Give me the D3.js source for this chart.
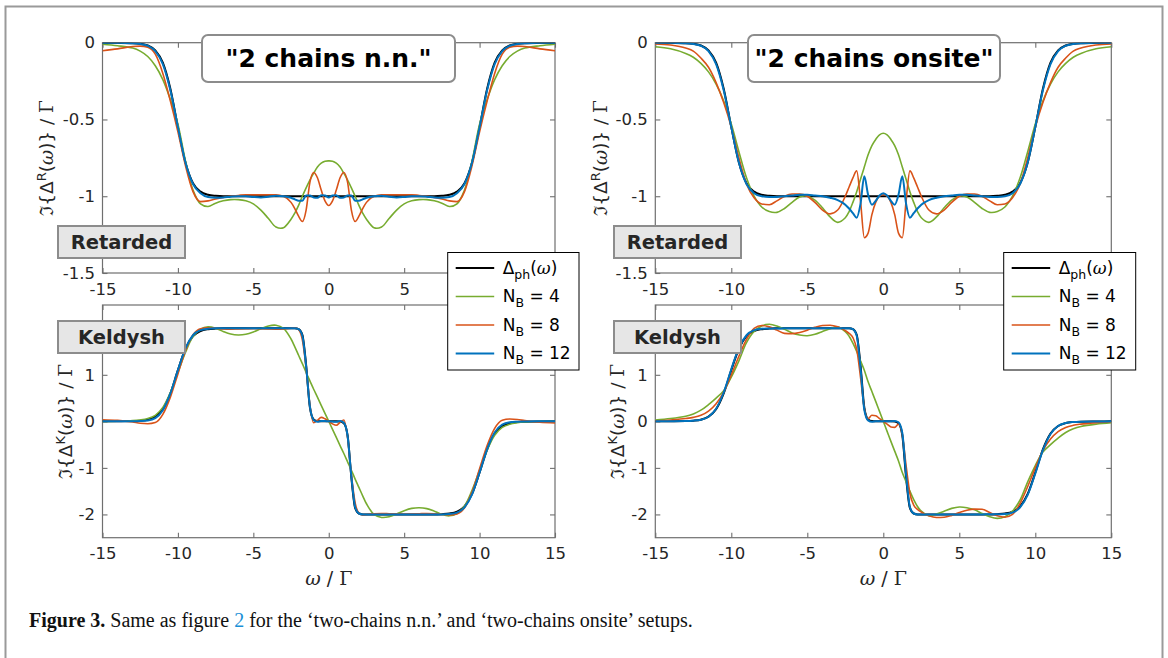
<!DOCTYPE html>
<html>
<head>
<meta charset="utf-8">
<script src="https://cdn.jsdelivr.net/npm/d3@7"></script>
<style>
  body { margin: 0; background: #fff; }
  svg { display: block; }
</style>
</head>
<body>
<svg id="fig" width="1168" height="658"></svg>
<script>
// ---- frequency grid (omega / Gamma), finer near the Fermi edges ----
const omega = [-15, -14, -13, -12.5, -12, -11.5, -11, -10.5, -10, -9.5, -9, -8.5, -8, -7.5, -7, -6.5, -6, -5.5, -5, -4.5, -4, -3.5, -3, -2.5, -2.25, -2, -1.75, -1.5, -1.25, -1, -0.75, -0.5, -0.25, 0,
  0.25, 0.5, 0.75, 1, 1.25, 1.5, 1.75, 2, 2.25, 2.5, 3, 3.5, 4, 4.5, 5, 5.5, 6, 6.5, 7, 7.5, 8, 8.5, 9, 9.5, 10, 10.5, 11, 11.5, 12, 12.5, 13, 14, 15];

// ---- physical hybridization (same target in both setups) ----
const deltaPhRet = [0, -0.001, -0.003, -0.007, -0.018, -0.05, -0.13, -0.3, -0.55, -0.78, -0.915, -0.97, -0.99, -0.997, -1, -1, -1, -1, -1, -1, -1, -1, -1, -1, -1, -1, -1, -1, -1, -1, -1, -1, -1, -1,
  -1, -1, -1, -1, -1, -1, -1, -1, -1, -1, -1, -1, -1, -1, -1, -1, -1, -1, -1, -0.997, -0.99, -0.97, -0.915, -0.78, -0.55, -0.3, -0.13, -0.05, -0.018, -0.007, -0.003, -0.001, 0];
const deltaPhKel = [0, 0.002, 0.006, 0.014, 0.036, 0.1, 0.26, 0.6, 1.1, 1.56, 1.83, 1.94, 1.98, 1.994, 2, 2, 2, 2, 2, 2, 2, 2, 2, 2, 2, 1.98, 1.86, 1.21, 0.3, 0.04, 0.005, 0, 0, 0,
  0, 0, -0.005, -0.04, -0.3, -1.21, -1.86, -1.98, -2, -2, -2, -2, -2, -2, -2, -2, -2, -2, -2, -1.994, -1.98, -1.94, -1.83, -1.56, -1.1, -0.6, -0.26, -0.1, -0.036, -0.014, -0.006, -0.002, 0];

// ---- "2 chains n.n." retarded ----
const nnRetNB4 = [-0.01, -0.02, -0.035, -0.055, -0.09, -0.15, -0.24, -0.37, -0.53, -0.77, -0.96, -1.05, -1.067, -1.045, -1.03, -1.022, -1.022, -1.03, -1.05, -1.09, -1.145, -1.2, -1.205, -1.15, -1.11, -1.06, -1.0, -0.945, -0.895, -0.85, -0.81, -0.785, -0.772, -0.77,
  -0.772, -0.785, -0.81, -0.85, -0.895, -0.945, -1.0, -1.06, -1.11, -1.15, -1.205, -1.2, -1.145, -1.09, -1.05, -1.03, -1.022, -1.022, -1.03, -1.045, -1.067, -1.05, -0.96, -0.77, -0.53, -0.37, -0.24, -0.15, -0.09, -0.055, -0.035, -0.02, -0.01];
const nnRetNB8 = [-0.052, -0.04, -0.025, -0.022, -0.03, -0.075, -0.2, -0.38, -0.58, -0.8, -0.97, -1.035, -1.03, -1.018, -1.008, -1.0, -0.995, -0.99, -0.99, -0.99, -0.99, -0.99, -1.0, -1.04, -1.08, -1.13, -1.165, -1.09, -0.91, -0.845, -0.88, -0.96, -1.03, -1.06,
  -1.03, -0.96, -0.88, -0.845, -0.91, -1.09, -1.165, -1.13, -1.08, -1.04, -1.0, -0.99, -0.99, -0.99, -0.99, -0.99, -0.995, -1.0, -1.008, -1.018, -1.03, -1.035, -0.97, -0.8, -0.58, -0.38, -0.2, -0.075, -0.03, -0.022, -0.025, -0.04, -0.052];
const nnRetNB12 = [0, 0, -0.003, -0.008, -0.02, -0.055, -0.14, -0.31, -0.55, -0.78, -0.92, -0.98, -1.005, -1.01, -1.008, -1.003, -1.0, -1.0, -1.005, -1.008, -1.003, -0.997, -1.0, -1.01, -1.02, -1.03, -1.03, -0.995, -0.995, -1.008, -1.01, -0.993, -0.995, -1.008,
  -0.995, -0.993, -1.01, -1.008, -0.995, -0.995, -1.03, -1.03, -1.02, -1.01, -1.0, -0.997, -1.003, -1.008, -1.005, -1.0, -1.0, -1.003, -1.008, -1.01, -1.005, -0.98, -0.92, -0.78, -0.55, -0.31, -0.14, -0.055, -0.02, -0.008, -0.003, 0, 0];

// ---- "2 chains onsite" retarded ----
const osRetNB4 = [-0.026, -0.04, -0.07, -0.095, -0.135, -0.19, -0.27, -0.38, -0.53, -0.71, -0.88, -1.0, -1.07, -1.1, -1.105, -1.08, -1.04, -1.005, -1.0, -1.025, -1.075, -1.135, -1.17, -1.14, -1.1, -1.04, -0.97, -0.89, -0.81, -0.73, -0.67, -0.63, -0.6, -0.59,
  -0.6, -0.63, -0.67, -0.73, -0.81, -0.89, -0.97, -1.04, -1.1, -1.14, -1.17, -1.135, -1.075, -1.025, -1.0, -1.005, -1.04, -1.08, -1.105, -1.1, -1.07, -1.0, -0.88, -0.71, -0.53, -0.38, -0.27, -0.19, -0.135, -0.095, -0.07, -0.04, -0.026];
const osRetNB8 = [-0.008, -0.015, -0.035, -0.055, -0.1, -0.16, -0.26, -0.39, -0.55, -0.75, -0.92, -1.01, -1.05, -1.055, -1.03, -1.0, -0.985, -0.985, -1.0, -1.04, -1.09, -1.115, -1.09, -1.0, -0.94, -0.88, -0.835, -1.03, -1.27, -1.24, -1.12, -1.04, -1.0, -0.99,
  -1.0, -1.04, -1.12, -1.24, -1.27, -1.03, -0.835, -0.88, -0.94, -1.0, -1.09, -1.115, -1.09, -1.04, -1.0, -0.985, -0.985, -1.0, -1.03, -1.055, -1.05, -1.01, -0.92, -0.75, -0.55, -0.39, -0.26, -0.16, -0.1, -0.055, -0.035, -0.015, -0.008];
const osRetNB12 = [0, 0, -0.003, -0.008, -0.02, -0.055, -0.14, -0.31, -0.55, -0.78, -0.92, -0.98, -1.0, -1.005, -1.005, -1.0, -0.995, -0.99, -0.99, -0.995, -1.0, -1.01, -1.025, -1.055, -1.08, -1.11, -1.14, -1.05, -0.87, -0.99, -1.055, -1.03, -0.995, -0.98,
  -0.995, -1.03, -1.055, -0.99, -0.87, -1.05, -1.14, -1.11, -1.08, -1.055, -1.025, -1.01, -1.0, -0.995, -0.99, -0.99, -0.995, -1.0, -1.005, -1.005, -1.0, -0.98, -0.92, -0.78, -0.55, -0.31, -0.14, -0.055, -0.02, -0.008, -0.003, 0, 0];

// ---- "2 chains n.n." Keldysh ----
const nnKelNB4 = [0, 0.004, 0.015, 0.03, 0.06, 0.13, 0.3, 0.62, 1.05, 1.48, 1.82, 1.98, 2.03, 2.0, 1.93, 1.875, 1.855, 1.87, 1.92, 1.99, 2.05, 2.065, 2.0, 1.77, 1.6, 1.42, 1.24, 1.05, 0.87, 0.69, 0.52, 0.345, 0.172, 0,
  -0.172, -0.345, -0.52, -0.69, -0.87, -1.05, -1.24, -1.42, -1.6, -1.77, -2.0, -2.065, -2.05, -1.99, -1.92, -1.87, -1.855, -1.875, -1.93, -2.0, -2.03, -1.98, -1.82, -1.48, -1.05, -0.62, -0.3, -0.13, -0.06, -0.03, -0.015, -0.004, 0];
const nnKelNB8 = [0.035, 0.02, -0.015, -0.04, -0.05, -0.025, 0.15, 0.52, 1.02, 1.52, 1.86, 1.99, 2.01, 2.0, 1.985, 1.98, 1.985, 1.99, 1.995, 1.99, 1.985, 1.98, 1.985, 2.0, 2.01, 1.97, 1.75, 1.15, 0.35, -0.03, 0.02, 0.085, 0.055, 0,
  -0.055, -0.085, -0.02, 0.03, -0.35, -1.15, -1.75, -1.97, -2.01, -2.0, -1.985, -1.98, -1.985, -1.99, -1.995, -1.99, -1.985, -1.98, -1.985, -2.0, -2.01, -1.99, -1.86, -1.52, -1.02, -0.52, -0.15, 0.025, 0.05, 0.04, 0.015, -0.02, -0.035];
const nnKelNB12 = [0, 0, 0.003, 0.008, 0.02, 0.07, 0.24, 0.6, 1.1, 1.57, 1.85, 1.96, 1.99, 2, 2, 2, 2, 2, 2, 2, 2, 2, 2, 2, 2, 1.98, 1.84, 1.18, 0.32, 0.03, -0.01, 0.01, 0.005, 0,
  -0.005, -0.01, 0.01, -0.03, -0.32, -1.18, -1.84, -1.98, -2, -2, -2, -2, -2, -2, -2, -2, -2, -2, -2, -2, -1.99, -1.96, -1.85, -1.57, -1.1, -0.6, -0.24, -0.07, -0.02, -0.008, -0.003, 0, 0];

// ---- "2 chains onsite" Keldysh ----
const osKelNB4 = [0.03, 0.06, 0.11, 0.16, 0.24, 0.36, 0.5, 0.66, 0.95, 1.3, 1.69, 1.93, 2.05, 2.085, 2.05, 1.98, 1.9, 1.855, 1.84, 1.87, 1.93, 1.99, 2.03, 1.93, 1.83, 1.68, 1.5, 1.3, 1.1, 0.85, 0.64, 0.43, 0.215, 0,
  -0.215, -0.43, -0.64, -0.85, -1.1, -1.3, -1.5, -1.68, -1.83, -1.93, -2.03, -1.99, -1.93, -1.87, -1.84, -1.855, -1.9, -1.98, -2.05, -2.085, -2.05, -1.93, -1.69, -1.3, -0.95, -0.66, -0.5, -0.36, -0.24, -0.16, -0.11, -0.06, -0.03];
const osKelNB8 = [0.01, 0.03, 0.06, 0.085, 0.13, 0.22, 0.38, 0.63, 1.0, 1.4, 1.76, 2.0, 2.06, 2.03, 1.96, 1.89, 1.885, 1.91, 1.96, 2.02, 2.06, 2.065, 2.03, 1.95, 1.89, 1.8, 1.55, 0.95, 0.28, 0.06, 0.13, 0.12, 0.06, 0,
  -0.06, -0.12, -0.13, -0.06, -0.28, -0.95, -1.55, -1.8, -1.89, -1.95, -2.03, -2.065, -2.06, -2.02, -1.96, -1.91, -1.885, -1.89, -1.96, -2.03, -2.06, -2.0, -1.76, -1.4, -1.0, -0.63, -0.38, -0.22, -0.13, -0.085, -0.06, -0.03, -0.01];
const osKelNB12 = [0, 0.002, 0.006, 0.014, 0.036, 0.1, 0.27, 0.62, 1.12, 1.58, 1.85, 1.96, 1.99, 1.995, 1.995, 2, 2, 2, 2, 2, 2, 2, 2, 2, 2, 1.98, 1.84, 1.15, 0.25, 0.02, -0.01, 0, 0, 0,
  0, 0, 0.01, -0.02, -0.25, -1.15, -1.84, -1.98, -2, -2, -2, -2, -2, -2, -2, -2, -2, -2, -1.995, -1.995, -1.99, -1.96, -1.85, -1.58, -1.12, -0.62, -0.27, -0.1, -0.036, -0.014, -0.006, -0.002, 0];

// ---- ticks, labels ----
const xTicks = [-15, -10, -5, 0, 5, 10, 15];
const retTicks = [-1.5, -1, -0.5, 0];
const kelTicks = [-2, -1, 0, 1, 2];
const seriesNames = ["ph", "4", "8", "12"];
const seriesColors = ["#000000", "#77AC30", "#D95319", "#0072BD"];
const seriesWidths = [2, 1.6, 1.6, 2];

const svg = d3.select("#fig");
const SANS = "DejaVu Sans, Verdana, sans-serif";
const SERIF = "DejaVu Serif, serif";

// outer figure frame
svg.append("rect").attr("x", 5.5).attr("y", 6.5).attr("width", 1157).attr("height", 720)
  .attr("fill", "none").attr("stroke", "#9a9a9a").attr("stroke-width", 2);

// hideX / hideY: tick values whose labels sit under the legend or tag box
const panels = [
  { id: "tl", x0: 102.5, x1: 555, y0: 42.7, y1: 273, dom: [-1.5, 0], ticks: retTicks,
    data: [deltaPhRet, nnRetNB4, nnRetNB8, nnRetNB12], sup: "R", ylabX: 53, hideX: [10, 15], hideY: [] },
  { id: "tr", x0: 655.3, x1: 1111.3, y0: 42.7, y1: 273, dom: [-1.5, 0], ticks: retTicks,
    data: [deltaPhRet, osRetNB4, osRetNB8, osRetNB12], sup: "R", ylabX: 607, hideX: [10, 15], hideY: [] },
  { id: "bl", x0: 102.5, x1: 555, y0: 305, y1: 537.7, dom: [-2.5, 2.5], ticks: kelTicks,
    data: [deltaPhKel, nnKelNB4, nnKelNB8, nnKelNB12], sup: "K", ylabX: 72, xlab: true, hideX: [], hideY: [2] },
  { id: "br", x0: 655.3, x1: 1111.3, y0: 305, y1: 537.7, dom: [-2.5, 2.5], ticks: kelTicks,
    data: [deltaPhKel, osKelNB4, osKelNB8, osKelNB12], sup: "K", ylabX: 624, xlab: true, hideX: [], hideY: [2] }
];

panels.forEach(p => {
  const x = d3.scaleLinear().domain([-15, 15]).range([p.x0, p.x1]);
  const y = d3.scaleLinear().domain(p.dom).range([p.y1, p.y0]);
  const g = svg.append("g");

  g.append("clipPath").attr("id", "clip-" + p.id)
    .append("rect").attr("x", p.x0).attr("y", p.y0).attr("width", p.x1 - p.x0).attr("height", p.y1 - p.y0);

  const styleAxis = sel => {
    sel.select(".domain").remove();
    sel.selectAll(".tick line").attr("stroke", "#6f6f6f").attr("stroke-width", 1.1);
    sel.selectAll(".tick text").attr("fill", "#262626").style("font-family", SANS).style("font-size", "16.5px");
  };

  g.append("g").attr("transform", `translate(0,${p.y1})`)
    .call(d3.axisBottom(x).tickValues(xTicks).tickFormat(d => p.hideX.includes(d) ? "" : String(d))
      .tickSize(-5).tickPadding(10)).call(styleAxis);
  g.append("g").attr("transform", `translate(0,${p.y0})`)
    .call(d3.axisTop(x).tickValues(xTicks).tickFormat("").tickSize(-5)).call(styleAxis);
  g.append("g").attr("transform", `translate(${p.x0},0)`)
    .call(d3.axisLeft(y).tickValues(p.ticks).tickFormat(d => p.hideY.includes(d) ? "" : String(d))
      .tickSize(-5).tickPadding(7.5)).call(styleAxis);
  g.append("g").attr("transform", `translate(${p.x1},0)`)
    .call(d3.axisRight(y).tickValues(p.ticks).tickFormat("").tickSize(-5)).call(styleAxis);

  // axes box
  g.append("rect").attr("x", p.x0).attr("y", p.y0).attr("width", p.x1 - p.x0).attr("height", p.y1 - p.y0)
    .attr("fill", "none").attr("stroke", "#6f6f6f").attr("stroke-width", 1.2);

  const lineMono = d3.line().x((d, i) => x(omega[i])).y(d => y(d)).curve(d3.curveMonotoneX);
  const lineSmooth = d3.line().x((d, i) => x(omega[i])).y(d => y(d)).curve(d3.curveCatmullRom.alpha(0.5));
  const curves = g.append("g").attr("clip-path", `url(#clip-${p.id})`);
  p.data.forEach((arr, k) => {
    curves.append("path").datum(arr).attr("d", k === 1 ? lineSmooth : lineMono)
      .attr("fill", "none").attr("stroke", seriesColors[k]).attr("stroke-width", seriesWidths[k])
      .attr("stroke-linejoin", "round");
  });

  // y label: Im{Delta^R(omega)} / Gamma
  const cy = (p.y0 + p.y1) / 2;
  const yl = g.append("text").attr("transform", `translate(${p.ylabX},${cy}) rotate(-90)`)
    .attr("text-anchor", "middle").attr("fill", "#262626").style("font-size", "18.5px").style("font-family", SANS);
  yl.append("tspan").style("font-family", SERIF).text("\u2111");
  yl.append("tspan").text("{\u0394");
  yl.append("tspan").attr("dy", -7.5).style("font-size", "13px").text(p.sup);
  yl.append("tspan").attr("dy", 7.5).text("(");
  yl.append("tspan").style("font-family", SERIF).style("font-style", "italic").text("\u03C9");
  yl.append("tspan").text(")} / ");
  yl.append("tspan").style("font-family", SERIF).text("\u0393");

  if (p.xlab) {
    const xl = g.append("text").attr("x", (p.x0 + p.x1) / 2).attr("y", 585)
      .attr("text-anchor", "middle").attr("fill", "#262626").style("font-size", "19px").style("font-family", SANS);
    xl.append("tspan").style("font-family", SERIF).style("font-style", "italic").text("\u03C9");
    xl.append("tspan").text(" / ");
    xl.append("tspan").style("font-family", SERIF).text("\u0393");
  }
});

// panel tags
const tags = [
  { t: "Retarded", x: 58, y: 226 }, { t: "Retarded", x: 614, y: 226 },
  { t: "Keldysh", x: 58, y: 321 }, { t: "Keldysh", x: 614, y: 321 }
];
tags.forEach(d => {
  svg.append("rect").attr("x", d.x).attr("y", d.y).attr("width", 127).attr("height", 32)
    .attr("fill", "#e6e6e6").attr("stroke", "#8c8c8c").attr("stroke-width", 2);
  svg.append("text").attr("x", d.x + 63.5).attr("y", d.y + 23).attr("text-anchor", "middle")
    .attr("fill", "#262626").style("font-family", SANS).style("font-weight", "bold").style("font-size", "19.5px").text(d.t);
});

// setup titles
const titles = [
  { t: "\"2 chains n.n.\"", x: 202, w: 253 },
  { t: "\"2 chains onsite\"", x: 748, w: 252 }
];
titles.forEach(d => {
  svg.append("rect").attr("x", d.x).attr("y", 35).attr("width", d.w).attr("height", 47).attr("rx", 6)
    .attr("fill", "#fff").attr("stroke", "#8c8c8c").attr("stroke-width", 2);
  svg.append("text").attr("x", d.x + d.w / 2).attr("y", 66.5).attr("text-anchor", "middle")
    .attr("fill", "#000").style("font-family", SANS).style("font-weight", "bold").style("font-size", "25px").text(d.t);
});

// legends
[{ x: 447.7, w: 131.3 }, { x: 1003.7, w: 132 }].forEach(L => {
  const lg = svg.append("g");
  lg.append("rect").attr("x", L.x).attr("y", 252.5).attr("width", L.w).attr("height", 117.5)
    .attr("fill", "#fff").attr("stroke", "#000").attr("stroke-width", 1);
  seriesNames.forEach((name, k) => {
    const ry = 268 + k * 28.5;
    lg.append("line").attr("x1", L.x + 8).attr("x2", L.x + 46.5).attr("y1", ry).attr("y2", ry)
      .attr("stroke", seriesColors[k]).attr("stroke-width", seriesWidths[k]);
    const t = lg.append("text").attr("x", L.x + 55).attr("y", ry + 5.5).attr("fill", "#000")
      .style("font-family", SANS).style("font-size", "17px");
    if (name === "ph") {
      t.append("tspan").text("\u0394");
      t.append("tspan").attr("dy", 5).style("font-size", "12.5px").text("ph");
      t.append("tspan").attr("dy", -5).text("(");
      t.append("tspan").style("font-family", SERIF).style("font-style", "italic").text("\u03C9");
      t.append("tspan").text(")");
    } else {
      t.append("tspan").text("N");
      t.append("tspan").attr("dy", 5).style("font-size", "12.5px").text("B");
      t.append("tspan").attr("dy", -5).text(" = " + name);
    }
  });
});

// caption
const cap = svg.append("text").attr("x", 29).attr("y", 627).attr("fill", "#111")
  .style("font-family", "Liberation Serif, Times New Roman, serif").style("font-size", "20px");
cap.append("tspan").style("font-weight", "bold").text("Figure 3.");
cap.append("tspan").text(" Same as figure ");
cap.append("tspan").attr("fill", "#1a8fd6").text("2");
cap.append("tspan").text(" for the \u2018two-chains n.n.\u2019 and \u2018two-chains onsite\u2019 setups.");
</script>
</body>
</html>
